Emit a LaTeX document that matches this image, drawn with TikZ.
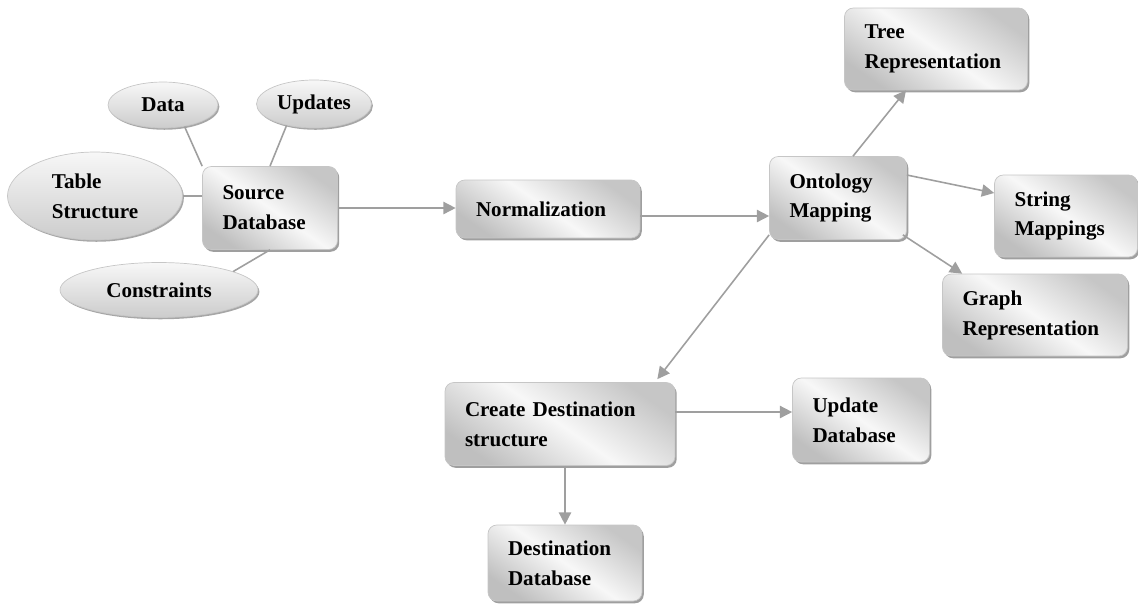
\documentclass[tikz,border=0pt]{standalone}
\usepackage{fontspec}
\setmainfont{Liberation Serif}
\usepackage{tikz}
\usetikzlibrary{shapes.geometric,shadows,arrows.meta}
\tikzset{
  font={\fontsize{12pt}{17pt}\selectfont\bfseries}}

\begin{document}
\begin{tikzpicture}[x=0.02cm,y=-0.02cm,
  box/.style={rectangle,rounded corners=5pt,draw=gray!45,thin,
    top color=gray!45,bottom color=gray!50,middle color=gray!6,shading angle=-35,
    drop shadow={shadow xshift=1pt,shadow yshift=-1.3pt,fill=gray!75,opacity=1},
    align=left,inner xsep=0.4cm,inner ysep=0pt},
  blob/.style={ellipse,draw=gray!45,thin,
    top color=gray!6,bottom color=gray!40,
    drop shadow={shadow xshift=0.8pt,shadow yshift=-1pt,fill=gray!70,opacity=1},
    align=left,inner sep=0pt},
  link/.style={draw=gray!75,line width=0.9pt},
  arr/.style={link,-{Triangle[length=7pt,width=7pt]}}]
\useasboundingbox (0,0) rectangle (1138,603);
\node[blob,minimum width=2.2cm,minimum height=0.92cm] (data) at (163,105) {Data};
\node[blob,minimum width=2.3cm,minimum height=0.96cm] (upd) at (314,104) {Updates};
\node[blob,minimum width=3.5cm,minimum height=1.76cm] (tbl) at (95,196) {Table\\Structure};
\node[blob,minimum width=3.96cm,minimum height=1.1cm] (cons) at (159,290) {Constraints};
\node[box,text width=1.9cm,minimum height=1.66cm] (src) at (270,208) {Source\\Database};
\node[box,text width=2.88cm,minimum height=1.16cm] (norm) at (548,209) {Normalization};
\node[box,text width=1.94cm,minimum height=1.66cm] (ont) at (838,198) {Ontology\\Mapping};
\node[box,text width=2.86cm,minimum height=1.64cm] (tree) at (936,49) {Tree\\Representation};
\node[box,text width=2.06cm,minimum height=1.64cm] (str) at (1066,216) {String\\Mappings};
\node[box,text width=2.9cm,minimum height=1.64cm] (graph) at (1035,315) {Graph\\Representation};
\node[box,text width=3.8cm,minimum height=1.66cm] (create) at (560,424) {Create Destination\\structure};
\node[box,text width=1.94cm,minimum height=1.68cm] (updb) at (861,420) {Update\\Database};
\node[box,text width=2.28cm,minimum height=1.52cm] (dest) at (565,563) {Destination\\Database};
\draw[link] (data.-45) -- (src.north west);
\draw[link] (upd.-142) -- (src.north);
\draw[link] (tbl.east) -- (tbl.east -| src.west);
\draw[link] (cons.14) -- (src.south);
\draw[arr] (src.east) -- (src.east -| norm.west);
\draw[arr] ([yshift=-0.14cm]norm.east) -- ([yshift=-0.14cm]norm.east -| ont.west);
\draw[arr] ([xshift=0.3cm]ont.north) -- ([xshift=-0.6cm]tree.south);
\draw[arr] ([yshift=0.46cm]ont.east) -- ([yshift=0.46cm]str.west);
\draw[arr] ([xshift=-0.08cm,yshift=0.1cm]ont.south east) -- ([xshift=0.4cm]graph.north west);
\draw[arr] ([yshift=0.1cm]ont.south west) -- ([xshift=-0.36cm,yshift=0.06cm]create.north east);
\draw[arr] ([yshift=0.24cm]create.east) -- ([yshift=0.24cm]create.east -| updb.west);
\draw[arr] (dest.north |- create.south) -- (dest.north);
\end{tikzpicture}
\end{document}
